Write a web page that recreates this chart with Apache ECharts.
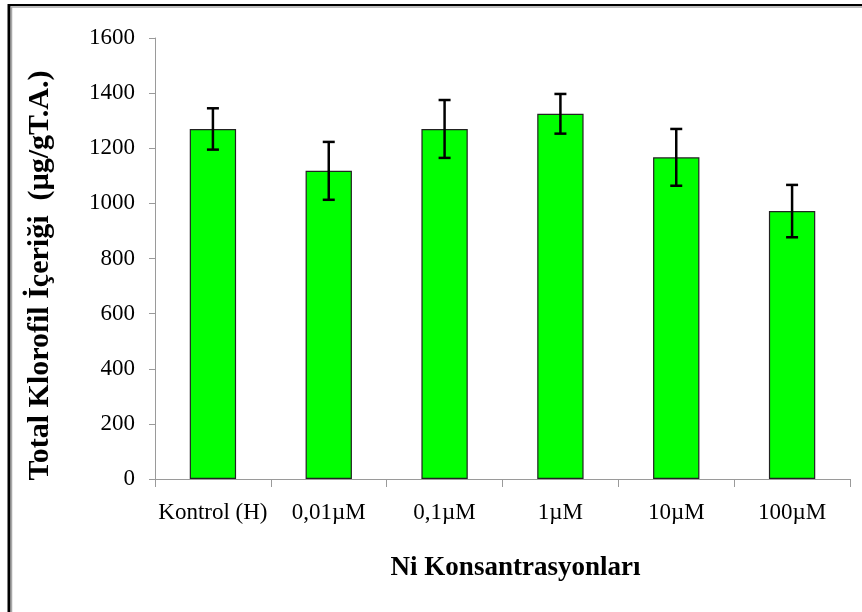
<!DOCTYPE html>
<html>
<head>
<meta charset="utf-8">
<script src="https://cdn.jsdelivr.net/npm/echarts@6/dist/echarts.min.js"></script>
<style>
  html, body { margin: 0; padding: 0; background: #fff; }
  #chart { width: 862px; height: 612px; }
</style>
</head>
<body>
<div id="chart"></div>
<script>
// Nickel concentrations tested
const categories = ['Kontrol (H)', '0,01µM', '0,1µM', '1µM', '10µM', '100µM'];
// Mean total chlorophyll content (µg/g fresh weight)
const chlorophyll = [1270, 1118, 1270, 1325, 1167, 972];
// Standard error for each mean
const stdError = [75, 105, 105, 72, 103, 95];
// Value axis ticks
const yTicks = { min: 0, max: 1600, interval: 200 };

const FONT = '"Liberation Serif", "Times New Roman", serif';
const chart = echarts.init(document.getElementById('chart'));

const errorData = categories.map((c, i) => [i, chlorophyll[i] - stdError[i], chlorophyll[i] + stdError[i]]);

chart.setOption({
  animation: false,
  backgroundColor: '#ffffff',
  grid: { left: 155, right: 12, top: 38, bottom: 133 },
  xAxis: {
    type: 'category',
    data: categories,
    name: 'Ni Konsantrasyonları',
    nameLocation: 'middle',
    nameGap: 76,
    nameTextStyle: { fontFamily: FONT, fontSize: 27, fontWeight: 'bold', color: '#000', padding: [0, 0, 0, 26] },
    axisLine: { lineStyle: { color: '#9a9a9a', width: 1 } },
    axisTick: { show: true, interval: 0, length: 8, lineStyle: { color: '#9a9a9a' } },
    axisLabel: { interval: 0, fontFamily: FONT, fontSize: 23, color: '#000', margin: 22 }
  },
  yAxis: {
    type: 'value',
    min: yTicks.min,
    max: yTicks.max,
    interval: yTicks.interval,
    name: 'Total Klorofil İçeriği  (µg/gT.A.)',
    nameLocation: 'middle',
    nameRotate: 90,
    nameGap: 100,
    nameTextStyle: { fontFamily: FONT, fontSize: 30, fontWeight: 'bold', color: '#000', padding: [0, 34, 0, 0] },
    axisLine: { show: true, lineStyle: { color: '#9a9a9a', width: 1 } },
    axisTick: { show: true, length: 6, lineStyle: { color: '#9a9a9a' } },
    axisLabel: { fontFamily: FONT, fontSize: 23, color: '#000', margin: 20, formatter: v => String(v) },
    splitLine: { show: false }
  },
  series: [
    {
      type: 'bar',
      data: chlorophyll,
      barWidth: '40%',
      itemStyle: { color: '#00ff00', borderColor: '#222', borderWidth: 1.2 }
    },
    {
      type: 'custom',
      data: errorData,
      z: 10,
      renderItem: function (params, api) {
        const x = api.value(0);
        const lo = api.coord([x, api.value(1)]);
        const hi = api.coord([x, api.value(2)]);
        const half = 6;
        const style = { stroke: '#000', lineWidth: 2.5 };
        return {
          type: 'group',
          children: [
            { type: 'line', shape: { x1: hi[0], y1: hi[1], x2: lo[0], y2: lo[1] }, style: style },
            { type: 'line', shape: { x1: hi[0] - half, y1: hi[1], x2: hi[0] + half, y2: hi[1] }, style: style },
            { type: 'line', shape: { x1: lo[0] - half, y1: lo[1], x2: lo[0] + half, y2: lo[1] }, style: style }
          ]
        };
      }
    }
  ],
  graphic: [
    { type: 'line', shape: { x1: 8, y1: 5, x2: 862, y2: 5 }, style: { stroke: '#000', lineWidth: 2 } },
    { type: 'line', shape: { x1: 11, y1: 7, x2: 862, y2: 7 }, style: { stroke: '#a8a8a8', lineWidth: 1.5 } },
    { type: 'line', shape: { x1: 9, y1: 4, x2: 9, y2: 612 }, style: { stroke: '#000', lineWidth: 3 } },
    { type: 'line', shape: { x1: 11.5, y1: 7, x2: 11.5, y2: 612 }, style: { stroke: '#a8a8a8', lineWidth: 1.5 } }
  ]
});
</script>
</body>
</html>
